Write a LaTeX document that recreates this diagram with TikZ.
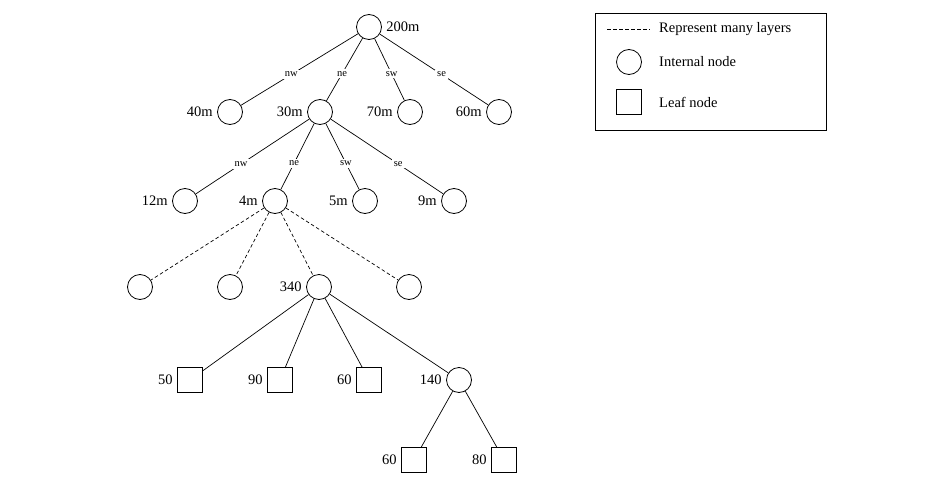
\documentclass[tikz,border=0pt]{standalone}
\usepackage{fontspec}
\setmainfont{Liberation Serif}
\begin{document}
\begin{tikzpicture}[x=1pt,y=-1pt,
  inode/.style={circle,draw,inner sep=0pt,minimum size=25pt,line width=0.8pt},
  leaf/.style={rectangle,draw,inner sep=0pt,minimum size=25pt,line width=0.8pt},
  edge/.style={line width=0.7pt},
  manylayers/.style={line width=0.7pt,dashed,dash pattern=on 3.5pt off 2.5pt},
  dir/.style={fill=white,inner sep=2pt,font=\fontsize{10.5}{12}\selectfont},
  every label/.style={font=\fontsize{14.5}{17}\selectfont},
  label distance=1pt,
  font=\fontsize{14.5}{17}\selectfont]
\useasboundingbox (0,0) rectangle (952,487);

% root and first level
\node[inode,label=right:200m] (r) at (369,27) {};
\node[inode,label=left:40m] (a1) at (230,112) {};
\node[inode,label=left:30m] (a2) at (320,112) {};
\node[inode,label=left:70m] (a3) at (410,112) {};
\node[inode,label=left:60m] (a4) at (499,112) {};

% second level
\node[inode,label=left:12m] (b1) at (185,201) {};
\node[inode,label=left:4m] (b2) at (275,201) {};
\node[inode,label=left:5m] (b3) at (365,201) {};
\node[inode,label=left:9m] (b4) at (454,201) {};

% deeper level, reached through many layers
\node[inode] (c1) at (140,287) {};
\node[inode] (c2) at (230,287) {};
\node[inode,label=left:340] (c3) at (319,287) {};
\node[inode] (c4) at (409,287) {};

% leaves of 340
\node[leaf,label=left:50] (d1) at (190,380) {};
\node[leaf,label=left:90] (d2) at (280,380) {};
\node[leaf,label=left:60] (d3) at (369,380) {};
\node[inode,label=left:140] (d4) at (459,380) {};

% leaves of 140
\node[leaf,label=left:60] (e1) at (414,460) {};
\node[leaf,label=left:80] (e2) at (504,460) {};

% quadrant edges
\draw[edge] (r) -- node[dir,pos=0.57] {nw} (a1);
\draw[edge] (r) -- node[dir,pos=0.57] {ne} (a2);
\draw[edge] (r) -- node[dir,pos=0.57] {sw} (a3);
\draw[edge] (r) -- node[dir,pos=0.57] {se} (a4);

\draw[edge] (a2) -- node[dir,pos=0.6] {nw} (b1);
\draw[edge] (a2) -- node[dir,pos=0.6] {ne} (b2);
\draw[edge] (a2) -- node[dir,pos=0.6] {sw} (b3);
\draw[edge] (a2) -- node[dir,pos=0.6] {se} (b4);

\draw[manylayers] (b2) -- (c1);
\draw[manylayers] (b2) -- (c2);
\draw[manylayers] (b2) -- (c3);
\draw[manylayers] (b2) -- (c4);

\draw[edge] (c3) -- (d1);
\draw[edge] (c3) -- (d2);
\draw[edge] (c3) -- (d3);
\draw[edge] (c3) -- (d4);

\draw[edge] (d4) -- (e1);
\draw[edge] (d4) -- (e2);

% legend
\node[draw,line width=0.8pt,minimum width=231pt,minimum height=117pt,inner sep=0pt] (legend) at (711,72) {};
\coordinate (lgA) at (607,29);
\coordinate (lgB) at (650,29);
\draw[manylayers] (lgA) -- (lgB);
\node[anchor=west,inner sep=0pt] (lgT1) at (659,29) {Represent many layers};
\node[inode] (lgC) at (629,62) {};
\node[anchor=west,inner sep=0pt] (lgT2) at (659,62) {Internal node};
\node[leaf] (lgS) at (629,102) {};
\node[anchor=west,inner sep=0pt] (lgT3) at (659,102) {Leaf node};
\end{tikzpicture}
\end{document}
